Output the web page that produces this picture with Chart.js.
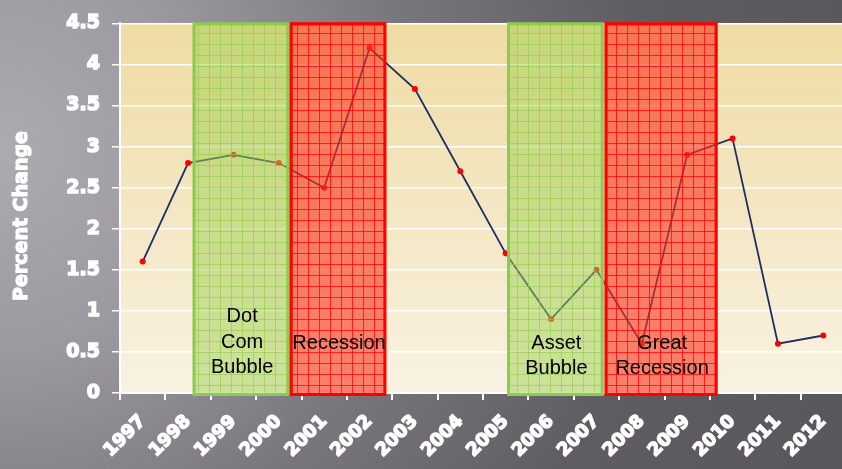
<!DOCTYPE html>
<html><head><meta charset="utf-8">
<script src="https://cdn.jsdelivr.net/npm/chart.js@4"></script>
<style>
html,body{margin:0;padding:0;width:842px;height:469px;overflow:hidden;
background: radial-gradient(circle at 0px 150px, #aeaab1 0px, #9d99a0 200px, #7a767e 420px, #5f5c62 650px, #5a575c 900px);}
canvas{display:block}
</style></head><body>
<canvas id="c" width="850" height="469"></canvas>
<script>
// ---- data ----
const years = ['1997','1998','1999','2000','2001','2002','2003','2004','2005','2006','2007','2008','2009','2010','2011','2012'];
const percentChange = [1.6, 2.8, 2.9, 2.8, 2.5, 4.2, 3.7, 2.7, 1.7, 0.9, 1.5, 0.6, 2.9, 3.1, 0.6, 0.7];
const yTickLabels = ['0','0.5','1','1.5','2','2.5','3','3.5','4','4.5'];
const yTitle = 'Percent Change';
const periodNames = [['Dot','Com','Bubble'], ['Recession'], ['Asset','Bubble'], ['Great','Recession']];
const periodType = ['bubble','recession','bubble','recession'];
const periodStartYear = [1998.1, 2000.24, 2005.03, 2007.18];
const periodEndYear   = [2000.24, 2002.37, 2007.16, 2009.67];
const periodTextLevel = [0.86, 0.54, 0.54, 0.54];

const firstYear = Number(years[0]);

function makePattern(ctx, fill, line){
  const c = document.createElement('canvas'); c.width = 11; c.height = 11;
  const g = c.getContext('2d');
  g.fillStyle = fill; g.fillRect(0,0,11,11);
  g.fillStyle = line; g.fillRect(0,0,11,1); g.fillRect(0,0,1,11);
  return ctx.createPattern(c,'repeat');
}

const bgPlugin = {
  id:'plotbg',
  beforeDraw(chart){
    const {ctx, chartArea:a} = chart;
    const g = ctx.createLinearGradient(0,a.top,0,a.bottom);
    g.addColorStop(0,'#efdba3'); g.addColorStop(1,'#f8f2e2');
    ctx.save(); ctx.fillStyle = g; ctx.fillRect(a.left,a.top,a.right-a.left,a.bottom-a.top); ctx.restore();
  }
};

const shadePlugin = {
  id:'shade',
  afterDatasetsDraw(chart){
    const {ctx, chartArea:a, scales:{x,y}} = chart;
    const greenPat = makePattern(ctx,'rgba(160,210,80,0.5)','rgba(140,200,70,0.55)');
    const redPat = makePattern(ctx,'rgba(255,50,30,0.6)','rgba(255,0,0,0.75)');
    ctx.save();
    periodNames.forEach((lines,i)=>{
      const x0 = x.getPixelForValue(periodStartYear[i]-firstYear);
      const x1 = x.getPixelForValue(periodEndYear[i]-firstYear);
      const top = a.top - 1, bot = a.bottom + 3;
      const isB = periodType[i]==='bubble';
      ctx.fillStyle = isB ? greenPat : redPat;
      ctx.fillRect(x0, top, x1-x0, bot-top);
      ctx.lineWidth = 3;
      ctx.strokeStyle = isB ? '#8ccb4f' : '#ff0000';
      ctx.strokeRect(x0+1.5, top+1.5, x1-x0-3, bot-top-3);
    });
    ctx.fillStyle = '#000';
    ctx.font = '20px "Liberation Sans", Arial, sans-serif';
    ctx.textAlign = 'center'; ctx.textBaseline = 'alphabetic';
    periodNames.forEach((lines,i)=>{
      const cx = (x.getPixelForValue(periodStartYear[i]-firstYear) + x.getPixelForValue(periodEndYear[i]-firstYear))/2;
      const by = y.getPixelForValue(periodTextLevel[i]);
      lines.forEach((t,k)=> ctx.fillText(t, cx + 1, by + k*25.5));
    });
    ctx.restore();
  }
};

const titlePlugin = {
  id:'ytitle',
  afterDraw(chart){
    const {ctx} = chart;
    ctx.save();
    ctx.translate(22, 216); ctx.rotate(-Math.PI/2);
    ctx.font = 'bold 19px "DejaVu Sans", sans-serif';
    ctx.fillStyle = '#fff'; ctx.strokeStyle = '#fff'; ctx.lineWidth = 1.2;
    ctx.textAlign = 'center'; ctx.textBaseline = 'middle';
    ctx.strokeText(yTitle, 0, 0);
    ctx.fillText(yTitle, 0, 0);
    ctx.restore();
  }
};

new Chart(document.getElementById('c'), {
  type:'line',
  data:{
    labels: years,
    datasets:[{
      data: percentChange,
      borderColor:'#1f2d63', borderWidth:1.8,
      pointRadius:3, pointBackgroundColor:'#ff0000', pointBorderColor:'#ff0000', pointBorderWidth:0,
      tension:0, fill:false
    }]
  },
  options:{
    responsive:false, animation:false, devicePixelRatio:1,
    layout:{padding:{top:19,right:2,left:0,bottom:0}},
    plugins:{legend:{display:false}, tooltip:{enabled:false}},
    scales:{
      x:{
        offset:true,
        grid:{offset:true, drawOnChartArea:false, color:'#fff', tickColor:'#fff', tickLength:7, lineWidth:2},
        border:{color:'#fff', width:2},
        ticks:{color:'#fff', autoSkip:false, minRotation:45, maxRotation:45, padding:11,
          textStrokeColor:'#fff', textStrokeWidth:1.5,
          font:{family:'"DejaVu Sans", sans-serif', weight:'bold', size:18}},
        afterFit(s){ s.height = 76; }
      },
      y:{
        min:0, max:4.5,
        grid:{color:'#fff', lineWidth:1.5, tickColor:'#fff', tickLength:8},
        border:{color:'#fff', width:2},
        ticks:{stepSize:0.5, color:'#fff', padding:12,
          textStrokeColor:'#fff', textStrokeWidth:1.5,
          font:{family:'"DejaVu Sans", sans-serif', weight:'bold', size:19},
          callback:(v,i)=> yTickLabels[Math.round(v*2)]},
        afterFit(s){ s.width = 120; }
      }
    }
  },
  plugins:[bgPlugin, shadePlugin, titlePlugin]
});
</script>
</body></html>
